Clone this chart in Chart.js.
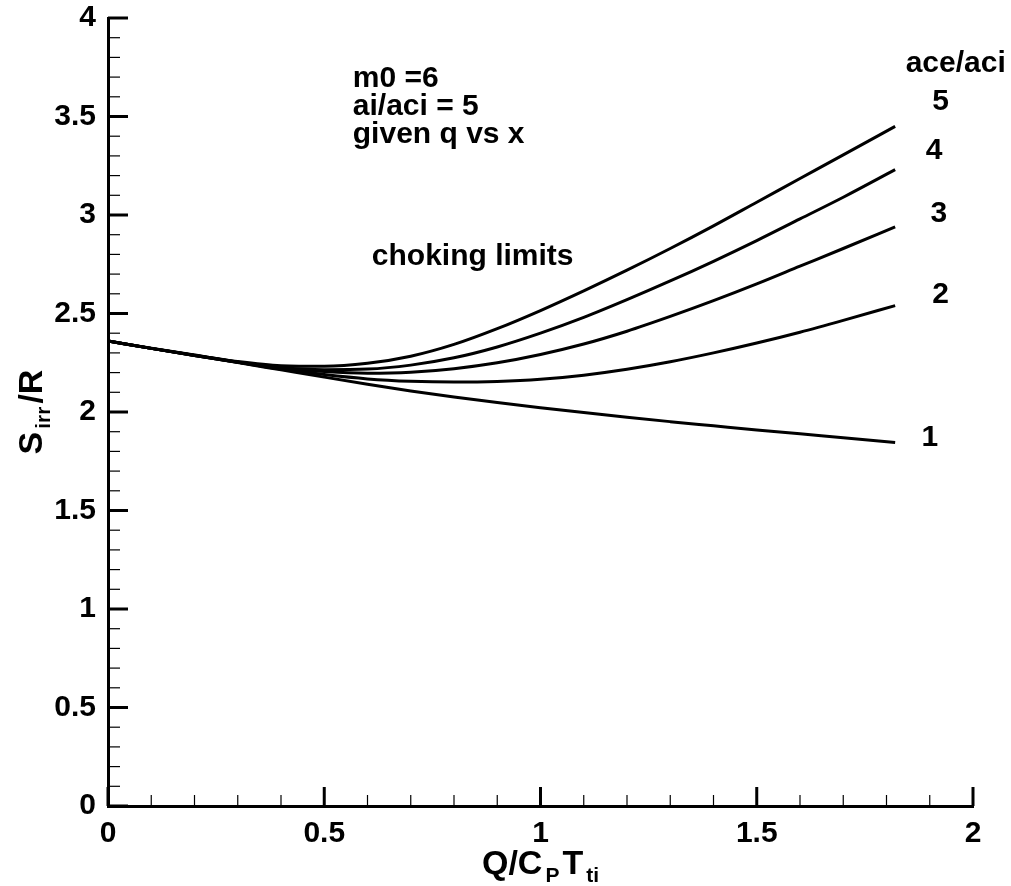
<!DOCTYPE html>
<html lang="en">
<head>
    <meta charset="UTF-8">
    <title>Choking limits</title>
    <script src="https://cdn.jsdelivr.net/npm/chart.js@4.4.0/dist/chart.umd.min.js"></script>
    <style>
        * { margin: 0; padding: 0; box-sizing: border-box; }
        body { background: #fff; }
        .wrap { width: 1011px; height: 886px; position: relative; }
    </style>
</head>
<body>
    <div class="wrap">
        <canvas id="chart" width="1011" height="886"></canvas>
    </div>

    <script>
        // Q/CpTti values shared by all curves
        const qValues = [0, 0.1, 0.2, 0.3, 0.4, 0.5, 0.6, 0.7, 0.8, 0.9, 1.0, 1.1, 1.2, 1.3, 1.4, 1.5, 1.6, 1.7, 1.82];

        // Sirr/R for each ace/aci
        const ratio1 = [2.36, 2.323, 2.287, 2.251, 2.214, 2.177, 2.141, 2.107, 2.076, 2.048, 2.022, 1.997, 1.973, 1.951, 1.93, 1.909, 1.889, 1.869, 1.845];
        const ratio2 = [2.36, 2.323, 2.287, 2.252, 2.218, 2.19, 2.168, 2.156, 2.152, 2.155, 2.166, 2.187, 2.217, 2.255, 2.30, 2.35, 2.405, 2.465, 2.54];
        const ratio3 = [2.36, 2.323, 2.287, 2.253, 2.222, 2.205, 2.197, 2.202, 2.22, 2.25, 2.292, 2.345, 2.41, 2.485, 2.565, 2.65, 2.74, 2.83, 2.94];
        const ratio4 = [2.36, 2.323, 2.288, 2.254, 2.226, 2.215, 2.218, 2.238, 2.275, 2.33, 2.40, 2.48, 2.57, 2.665, 2.765, 2.87, 2.98, 3.09, 3.23];
        const ratio5 = [2.36, 2.324, 2.289, 2.256, 2.235, 2.232, 2.247, 2.283, 2.343, 2.423, 2.515, 2.615, 2.72, 2.83, 2.945, 3.065, 3.185, 3.305, 3.45];

        const curveLabels = ['1', '2', '3', '4', '5'];
        const curves = [ratio1, ratio2, ratio3, ratio4, ratio5];

        // tick values
        const xTicks = [0, 0.5, 1, 1.5, 2];
        const yTicks = [0, 0.5, 1, 1.5, 2, 2.5, 3, 3.5, 4];

        // text notes, in data coordinates
        const infoLines = ['m0 =6', 'ai/aci = 5', 'given q vs x'];
        const curveLabelPos = [[1.9, 1.87], [1.925, 2.597], [1.921, 3.004], [1.91, 3.324], [1.925, 3.573]];

        const FONT = '"Liberation Sans", Arial, Helvetica, sans-serif';

        // ticks drawn inside the plot + all the labels
        const decorPlugin = {
            id: 'decor',
            afterDraw(chart) {
                const ctx = chart.ctx;
                const xs = chart.scales.x;
                const ys = chart.scales.y;
                const area = chart.chartArea;
                ctx.save();
                ctx.strokeStyle = '#000';

                // x minor/major ticks
                for (let i = 0; i <= 20; i++) {
                    const px = xs.getPixelForValue(i / 10);
                    const major = i % 5 === 0;
                    ctx.lineWidth = major ? 3 : 1.2;
                    ctx.beginPath();
                    ctx.moveTo(px, area.bottom);
                    ctx.lineTo(px, area.bottom - (major ? 19 : 11));
                    ctx.stroke();
                }
                // y minor/major ticks
                for (let i = 0; i <= 40; i++) {
                    const py = ys.getPixelForValue(i / 10);
                    const major = i % 5 === 0;
                    ctx.lineWidth = major ? 3 : 1.2;
                    ctx.beginPath();
                    ctx.moveTo(area.left, py);
                    ctx.lineTo(area.left + (major ? 20 : 12), py);
                    ctx.stroke();
                }

                ctx.fillStyle = '#000';
                ctx.textBaseline = 'middle';

                // info block
                ctx.font = 'bold 30px ' + FONT;
                ctx.textAlign = 'left';
                infoLines.forEach((t, i) => {
                    ctx.fillText(t, xs.getPixelForValue(0.566), ys.getPixelForValue(3.69 - i * 0.142));
                });
                ctx.fillText('choking limits', xs.getPixelForValue(0.61), ys.getPixelForValue(2.79));

                // curve labels
                ctx.textAlign = 'center';
                ctx.fillText('ace/aci', xs.getPixelForValue(1.96), ys.getPixelForValue(3.77));
                curveLabels.forEach((t, i) => {
                    ctx.fillText(t, xs.getPixelForValue(curveLabelPos[i][0]), ys.getPixelForValue(curveLabelPos[i][1]));
                });

                // x axis title  Q/C_P T_ti
                drawSub(ctx, [['Q/C', 0], ['P', 1], ['T', 0], ['ti', 1]], (area.left + area.right) / 2, 862, 34, 21);
                // y axis title  S_irr/R
                ctx.save();
                ctx.translate(30, (area.top + area.bottom) / 2);
                ctx.rotate(-Math.PI / 2);
                drawSub(ctx, [['S', 0], ['irr', 1], ['/R', 0]], 0, 0, 34, 21);
                ctx.restore();

                ctx.restore();
            }
        };

        // text with subscripts, centred on cx
        function drawSub(ctx, parts, cx, cy, big, small) {
            const gap = 3;
            ctx.textAlign = 'left';
            ctx.textBaseline = 'alphabetic';
            let total = 0;
            parts.forEach(p => {
                ctx.font = 'bold ' + (p[1] ? small : big) + 'px ' + FONT;
                total += ctx.measureText(p[0]).width + gap;
            });
            total -= gap;
            let x = cx - total / 2;
            const base = cy + big * 0.36;
            parts.forEach(p => {
                ctx.font = 'bold ' + (p[1] ? small : big) + 'px ' + FONT;
                ctx.fillText(p[0], x, p[1] ? base + 8 : base);
                x += ctx.measureText(p[0]).width + gap;
            });
        }

        const datasets = curves.map((vals, i) => ({
            label: curveLabels[i],
            data: qValues.map((q, j) => ({ x: q, y: vals[j] })),
            borderColor: '#000',
            borderWidth: 3,
            pointRadius: 0,
            showLine: true,
            fill: false,
            cubicInterpolationMode: 'monotone'
        }));

        const tickFont = { family: FONT, size: 30, weight: 'bold' };

        new Chart(document.getElementById('chart'), {
            type: 'scatter',
            data: { datasets: datasets },
            options: {
                responsive: false,
                animation: false,
                layout: { padding: { left: 0, right: 38, top: 18, bottom: 0 } },
                plugins: {
                    legend: { display: false },
                    tooltip: { enabled: false }
                },
                scales: {
                    x: {
                        type: 'linear',
                        min: 0,
                        max: 2,
                        afterBuildTicks: s => { s.ticks = xTicks.map(v => ({ value: v })); },
                        afterFit: s => { s.height = 80; s.paddingLeft = 0; s.paddingRight = 0; },
                        grid: { display: false, drawTicks: false },
                        border: { display: true, color: '#000', width: 3 },
                        ticks: {
                            color: '#000',
                            padding: 10,
                            maxRotation: 0,
                            font: tickFont,
                            callback: v => String(v)
                        }
                    },
                    y: {
                        type: 'linear',
                        min: 0,
                        max: 4,
                        afterBuildTicks: s => { s.ticks = yTicks.map(v => ({ value: v })); },
                        afterFit: s => { s.width = 108; s.paddingTop = 0; s.paddingBottom = 0; },
                        grid: { display: false, drawTicks: false },
                        border: { display: true, color: '#000', width: 3 },
                        ticks: {
                            color: '#000',
                            padding: 12,
                            font: tickFont,
                            callback: v => String(v)
                        }
                    }
                }
            },
            plugins: [decorPlugin]
        });
    </script>
</body>
</html>
